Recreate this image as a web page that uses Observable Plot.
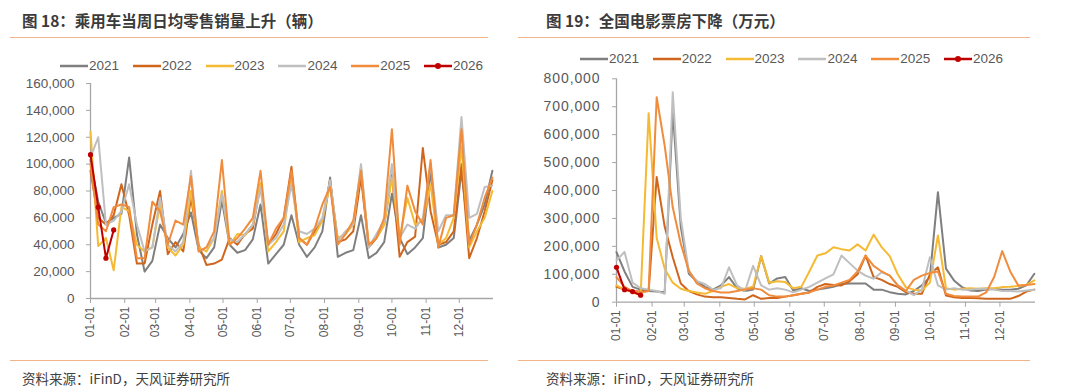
<!DOCTYPE html>
<html><head><meta charset="utf-8">
<script src="https://cdn.jsdelivr.net/npm/d3@7"></script>
<script src="https://cdn.jsdelivr.net/npm/@observablehq/plot@0.6"></script>
<style>
body{margin:0;background:#fff;}
#page{position:relative;width:1080px;height:390px;overflow:hidden;background:#fff;font-family:"Liberation Sans",Arial,"Noto Sans CJK SC",sans-serif;}
.title{position:absolute;top:10px;font-family:"Noto Sans CJK SC",sans-serif;font-weight:bold;font-size:15.5px;color:#3b3b3b;line-height:20px;white-space:nowrap;}
.source{position:absolute;top:369px;font-family:"Noto Sans CJK SC",sans-serif;font-size:13.5px;color:#404040;line-height:18px;white-space:nowrap;}
.hr{position:absolute;height:0;border-top:1.5px solid #F2B58A;}
.legend{position:absolute;display:flex;font-size:13.5px;color:#595959;line-height:18px;}
.item{width:72.8px;display:flex;align-items:center;}
.item svg{margin-right:1px;}
.chart{position:absolute;top:70px;}
</style></head>
<body><div id="page"></div>
<script>
// ---------- data ----------
const years = ["2021","2022","2023","2024","2025","2026"];
const colors = ["#7F7F7F","#D0661E","#F5BA33","#BFBFBF","#F08C3C","#C00000"];
const monthLabels = ["01-01","02-01","03-01","04-01","05-01","06-01","07-01","08-01","09-01","10-01","11-01","12-01"];
const monthStarts = [0,31,59,90,120,151,181,212,243,273,304,334];

// Passenger car weekly average daily retail sales (thousand vehicles), by week of year
const car2021 = [103,72,56,60,63,105,48,20,28,55,45,38,48,64,36,30,38,73,40,34,36,44,70,26,33,40,62,40,31,38,50,90,31,34,36,62,30,34,42,78,45,33,38,45,95,38,40,45,95,43,55,70,95];
const car2022 = [95,60,55,62,85,62,26,26,55,80,33,42,35,75,40,25,26,29,45,40,48,52,85,40,48,60,98,45,40,50,58,88,42,44,50,90,38,45,55,92,31,42,46,112,65,40,42,50,100,30,45,65,88];
const car2023 = [124,39,45,21,68,65,40,35,38,70,38,32,40,80,38,35,45,80,40,48,47,55,86,35,42,50,92,42,45,47,58,85,45,48,55,98,40,45,55,90,45,75,55,58,85,40,45,60,113,38,50,60,80];
const car2024 = [105,120,55,58,65,85,55,35,38,75,40,35,42,95,35,38,45,78,44,42,48,55,82,40,45,55,85,50,48,52,60,88,43,50,55,100,38,48,58,100,45,55,52,60,100,50,62,62,135,60,63,83,84];
const car2025 = [100,55,50,68,70,68,30,30,72,65,40,58,55,91,35,38,50,103,40,45,52,60,95,40,52,60,95,45,40,52,70,83,40,48,58,95,40,45,60,126,40,84,65,55,103,38,60,62,126,40,55,75,90];
const car2026 = [107,68,30,51];

// National box office, weekly (thousand 万元)
const box2021 = [179,110,55,45,40,38,36,686,270,102,75,55,45,60,90,50,40,45,165,67,85,90,42,50,40,45,50,55,65,67,67,67,45,45,36,30,28,40,60,90,394,120,78,54,42,40,45,48,45,45,48,60,102];
const box2022 = [55,45,40,38,40,448,270,161,67,40,28,20,18,18,15,12,10,25,12,15,15,20,25,30,35,55,65,62,60,75,100,167,90,80,65,55,36,30,30,100,125,24,18,15,15,14,12,12,12,12,22,38,45];
const box2023 = [60,45,35,25,677,230,120,70,48,40,35,30,40,55,65,50,48,55,165,70,75,72,50,55,110,167,175,197,190,185,207,185,242,197,165,100,54,45,42,70,239,50,45,48,50,48,50,50,54,55,58,62,78];
const box2024 = [150,180,70,50,45,40,30,752,300,110,75,65,45,50,125,60,40,130,60,45,50,45,35,45,55,70,85,100,167,140,113,95,84,107,96,60,42,25,45,161,60,45,50,45,45,48,48,45,40,40,38,42,45];
const box2025 = [90,55,40,35,40,734,560,340,209,113,67,50,40,35,35,40,45,50,45,25,20,20,25,30,35,45,55,60,70,80,110,167,130,110,95,60,40,80,95,105,110,30,22,20,20,20,35,90,183,110,60,62,65];
const box2026 = [125,45,38,25];

// ---------- build tables ----------
const weekDay = d3.range(53).map(i => i * 7); // week positions (day of year)
function toTable(seriesList) {
  return seriesList.flatMap((vals, k) => vals.map((v, i) => ({year: years[k], day: weekDay[i], value: v * 1000})));
}
const carData = toTable([car2021, car2022, car2023, car2024, car2025, car2026]);
const boxData = toTable([box2021, box2022, box2023, box2024, box2025, box2026]);

const axisColor = "#A6A6A6";
const labelColor = "#595959";

function makeChart({data, width, height, marginLeft, marginRight, marginTop, marginBottom, yMax, yStep, yFont, ySpacing}) {
  const yTicks = d3.range(0, yMax + 1, yStep);
  const svg = Plot.plot({
    width, height, marginLeft, marginRight, marginTop, marginBottom,
    style: {fontFamily: "'Liberation Sans', Arial, sans-serif", background: "transparent", overflow: "visible"},
    x: {type: "linear", domain: [0, 365]},
    y: {domain: [0, yMax]},
    color: {domain: years, range: colors},
    marks: [
      Plot.axisY(yTicks, {tickFormat: d3.format(","), tickSize: 4, tickPadding: 12, fontSize: yFont, stroke: axisColor, fill: labelColor, label: null}),
      Plot.axisX(monthStarts, {tickFormat: d => monthLabels[monthStarts.indexOf(d)], tickRotate: -90, tickSize: 5, tickPadding: 3, fontSize: 12, stroke: axisColor, fill: labelColor, label: null}),
      Plot.ruleY([0], {stroke: axisColor, strokeWidth: 1.3}),
      Plot.ruleX([0], {stroke: axisColor, strokeWidth: 1.3}),
      Plot.line(data, {x: "day", y: "value", z: "year", stroke: "year", strokeWidth: 2, strokeLinejoin: "round"}),
      Plot.dot(data.filter(d => d.year === "2026"), {x: "day", y: "value", fill: "year", r: 2.6})
    ]
  });
  if (ySpacing) svg.querySelectorAll("[aria-label='y-axis tick label'] text").forEach(t => t.setAttribute("letter-spacing", ySpacing));
  return svg;
}

const page = document.getElementById("page");
function add(html, cls, style) {
  const d = document.createElement("div");
  d.className = cls; d.innerHTML = html; Object.assign(d.style, style); page.appendChild(d); return d;
}

// titles & rules
add("图 18：乘用车当周日均零售销量上升（辆）", "title", {left: "22px"});
add("图 19：全国电影票房下降（万元）", "title", {left: "546px"});
add("", "hr", {left: "10px", width: "478px", top: "37px"});
add("", "hr", {left: "518px", width: "512px", top: "37px"});
add("", "hr", {left: "10px", width: "478px", top: "360px"});
add("", "hr", {left: "518px", width: "512px", top: "360px"});
add("资料来源：iFinD，天风证券研究所", "source", {left: "22px"});
add("资料来源：iFinD，天风证券研究所", "source", {left: "546px"});

// legends
function legendHTML() {
  return years.map((y, k) => {
    const dot = y === "2026" ? `<circle cx="14" cy="5" r="3" fill="${colors[k]}"/>` : "";
    return `<div class="item"><svg width="28" height="10"><line x1="0" x2="28" y1="5" y2="5" stroke="${colors[k]}" stroke-width="2.5"/>${dot}</svg><span>${y}</span></div>`;
  }).join("");
}
add(legendHTML(), "legend", {left: "60px", top: "57px"});
add(legendHTML(), "legend", {left: "580px", top: "50px"});

// charts
const left = makeChart({data: carData, width: 500, height: 280, marginLeft: 90, marginRight: 7, marginTop: 13, marginBottom: 52, yMax: 160000, yStep: 20000, yFont: 13.5});
left.classList.add("chart"); left.style.left = "0px"; left.style.position = "absolute"; left.style.top = "70px";
page.appendChild(left);

const right = makeChart({data: boxData, width: 510, height: 280, marginLeft: 86, marginRight: 5, marginTop: 8.3, marginBottom: 48.3, yMax: 800000, yStep: 100000, yFont: 14, ySpacing: "0.9"});
right.classList.add("chart"); right.style.left = "530px"; right.style.position = "absolute"; right.style.top = "70px";
page.appendChild(right);
</script>
</body></html>
